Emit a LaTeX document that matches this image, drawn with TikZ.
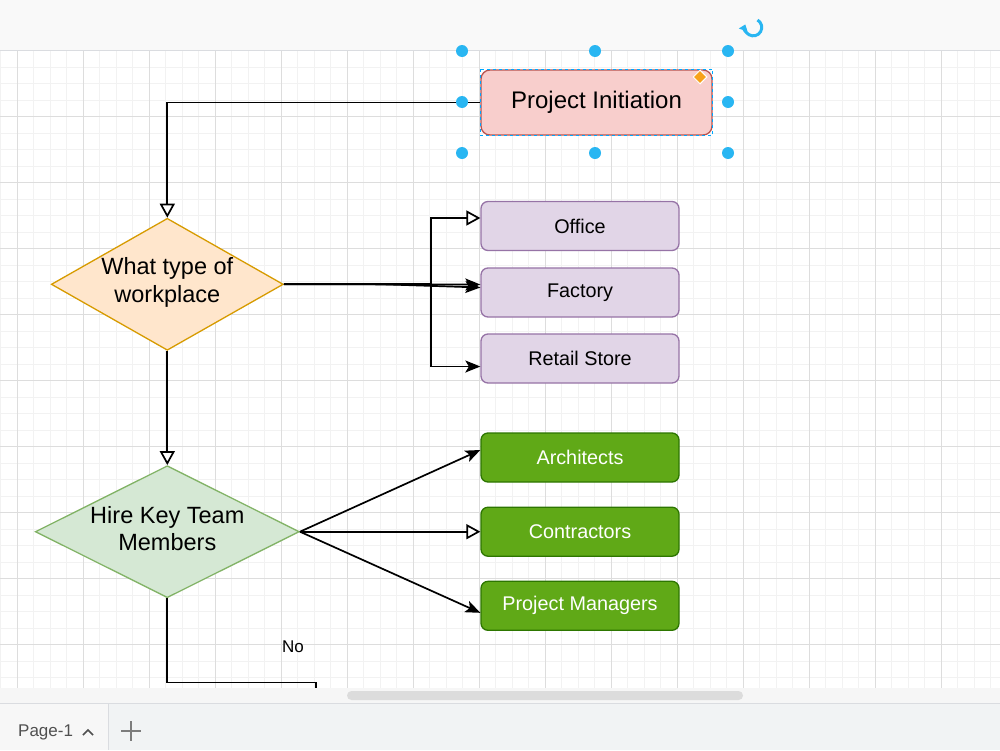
\documentclass[tikz,border=0pt]{standalone}
\usepackage{fontspec}
\setmainfont{Liberation Sans}
\usepackage{xcolor}
\usetikzlibrary{shapes.geometric,arrows.meta}

\definecolor{pinkfill}{HTML}{F8CECC}
\definecolor{pinkdraw}{HTML}{B85450}
\definecolor{orangefill}{HTML}{FFE6CC}
\definecolor{orangedraw}{HTML}{D79B00}
\definecolor{purplefill}{HTML}{E1D5E7}
\definecolor{purpledraw}{HTML}{9673A6}
\definecolor{greenfill}{HTML}{D5E8D4}
\definecolor{greendraw}{HTML}{82B366}
\definecolor{darkgreenfill}{HTML}{60A917}
\definecolor{darkgreendraw}{HTML}{2D7600}
\definecolor{handleblue}{HTML}{29B6F2}
\definecolor{selectblue}{HTML}{00A8FF}
\definecolor{knoborange}{HTML}{F7A21B}
\definecolor{gridminor}{HTML}{F2F2F2}
\definecolor{gridmajor}{HTML}{DDDDDD}
\definecolor{barfill}{HTML}{F9F9F9}
\definecolor{stripfill}{HTML}{F6F6F6}
\definecolor{thumbfill}{HTML}{DCDCDC}
\definecolor{tabfill}{HTML}{F1F3F4}
\definecolor{uiline}{HTML}{DADCE0}
\definecolor{uitext}{HTML}{505050}

\begin{document}
\begin{tikzpicture}[
x=1pt, y=-1pt,
% Style for the rounded boxes
box style/.style={
rectangle,
rounded corners=7pt,
line width=1.3pt,
minimum width=198pt,
minimum height=49pt,
inner sep=0pt,
font=\fontsize{19.8}{24}\selectfont
},
% Style for the decisions
decision style/.style={
diamond,
line width=1.3pt,
inner sep=0pt,
minimum width=232pt,
minimum height=132pt
},
% Style for the connectors
edge/.style={line width=1.7pt, black},
open tip/.style={-{Triangle[length=14pt,width=15pt,fill=white]}},
fill tip/.style={-{Stealth[length=15pt,width=12pt,inset=3.5pt]}},
% Style for the selection handles
handle/.style={circle, fill=handleblue, inner sep=0pt, minimum size=12pt}
]

\useasboundingbox (0,0) rectangle (1000,750);

% Toolbar strip and canvas
\fill[barfill] (0,0) rectangle (1000,50);
\fill[white] (0,50) rectangle (1000,688);

% Grid: minor lines, then every fourth one darker
\foreach \gx in {0,...,60} {
\draw[gridminor, line width=1pt] ({0.8+\gx*16.5},50) -- ++(0,638);
}
\foreach \gy in {0,...,38} {
\draw[gridminor, line width=1pt] (0,{50.7+\gy*16.5}) -- ++(1000,0);
}
\foreach \gx in {0,...,14} {
\draw[gridmajor, line width=1pt] ({17.3+\gx*66},50) -- ++(0,638);
}
\foreach \gy in {0,...,9} {
\draw[gridmajor, line width=1pt] (0,{50.7+\gy*66}) -- ++(1000,0);
}
\draw[uiline, line width=1pt] (0,50) -- (1000,50);

% Start box
\node[box style, fill=pinkfill, draw=pinkdraw, minimum width=231pt, minimum height=65pt,
rounded corners=9pt, font=\fontsize{24}{28}\selectfont] (init) at (596.5,102.5) {\raisebox{-2pt}{Project Initiation}};

% Decisions
\node[decision style, fill=orangefill, draw=orangedraw,
label={[align=center, font=\fontsize{23.5}{28}\selectfont, yshift=2pt]center:What type of\\workplace}] (d1) at (167.3,284.3) {};
\node[decision style, fill=greenfill, draw=greendraw, minimum width=264pt,
label={[align=center, font=\fontsize{23.5}{27}\selectfont, yshift=3pt]center:Hire Key Team\\Members}] (d2) at (167.3,531.7) {};

% Workplace options
\foreach \name/\y/\txt in {office/226/Office, factory/292.5/Factory, retail/358.5/Retail Store} {
\node[box style, fill=purplefill, draw=purpledraw] (\name) at (580,\y) {\txt};
}

% Team members
\foreach \name/\y/\txt in {arch/457.5/Architects, contr/531.7/Contractors, pm/605.8/Project Managers} {
\node[box style, fill=darkgreenfill, draw=darkgreendraw, text=white] (\name) at (580,\y) {\txt};
}

% Connectors
\coordinate (fork) at (431,284.3);
\coordinate (kink) at (383,284.3);
\coordinate (noend) at (316,690);

\draw[edge, open tip] (init.west) -| (d1.north);
\draw[edge, open tip] (d1.east) -- (fork) |- ([yshift=8pt]office.west);
\draw[edge, fill tip] (d1.east) -- ([yshift=8pt]factory.west);
\draw[edge, fill tip] (d1.east) -- (kink) -- ([yshift=5pt]factory.west);
\draw[edge, fill tip] (d1.east) -- (fork) |- ([yshift=-8pt]retail.west);
\draw[edge, open tip] (d1.south) -- (d2.north);
\draw[edge, fill tip] (d2.east) -- ([yshift=7.5pt]arch.west);
\draw[edge, open tip] (d2.east) -- (contr.west);
\draw[edge, fill tip] (d2.east) -- ([yshift=-7pt]pm.west);
\draw[edge] (d2.south) -- ++(0,84) -| (noend);
\node[font=\fontsize{17}{20}\selectfont] (nolabel) at (293,647) {No};

% Scrollbar and page tabs
\fill[stripfill] (0,688) rectangle (1000,703);
\fill[thumbfill, rounded corners=4.5pt] (347,691) rectangle (743,700);
\fill[tabfill] (0,703) rectangle (1000,750);
\fill[white!97!black] (0,703) rectangle (108,750);
\draw[uiline, line width=1pt] (0,703) -- (1000,703);
\draw[uiline, line width=1pt] (108,703) -- (108,750);
\node[font=\fontsize{17}{20}\selectfont, text=uitext, anchor=west, inner sep=0pt] (pagetab) at (18,732) {Page-1};
\draw[uitext, line width=1.6pt] (83,735) -- (88,730) -- (93,735);
\draw[uitext!75, line width=2.5pt] (121,731) -- (141,731) (131,721) -- (131,741);

% Selection of the start box
\draw[selectblue, dashed, line width=1pt] (init.north west) rectangle (init.south east);
\foreach \hx/\hy in {462/51, 595/51, 728/51, 462/102, 728/102, 462/153, 595/153, 728/153} {
\node[handle] (h\hx\hy) at (\hx,\hy) {};
}
\node[diamond, fill=knoborange, draw=white, line width=1pt, inner sep=0pt, minimum size=14pt] (knob) at (700,77) {};
\draw[handleblue, line width=3pt, -{Triangle[length=6pt,width=9pt]}] (757.5,20) arc[start angle=-60, end angle=200, radius=8.5];

\end{tikzpicture}
\end{document}
